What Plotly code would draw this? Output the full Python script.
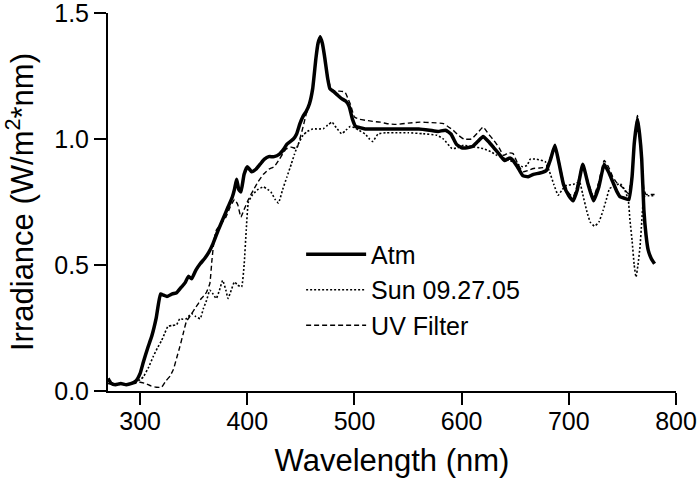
import plotly.graph_objects as go

# Atm (thick solid)
atm_wl = [270, 273, 277, 282, 287, 292, 296, 300, 303, 307, 311, 315, 319, 322, 325, 330, 334, 338,
          342, 345, 348, 352, 356, 360, 364, 368, 373, 378, 382, 386, 388, 390, 392, 394, 397, 400,
          404, 408, 412, 416, 420, 425, 430, 434, 437, 440, 443, 446, 449, 452, 455, 458, 461, 464,
          466, 468, 470, 472, 475, 477, 480, 484, 488, 492, 495, 498, 501, 505, 510, 520, 530, 540,
          550, 560, 570, 578, 585, 590, 595, 600, 605, 610, 615, 620, 625, 630, 635, 640, 645, 648,
          652, 657, 662, 667, 673, 679, 683, 687, 691, 695, 700, 704, 708, 713, 718, 723, 728, 733,
          737, 741, 745, 748, 752, 756, 759, 761, 764, 766, 768, 770, 772, 774, 777, 780]
atm_val = [0.05, 0.03, 0.025, 0.03, 0.025, 0.03, 0.04, 0.07, 0.115, 0.17, 0.22, 0.29, 0.385, 0.38,
           0.375, 0.385, 0.39, 0.41, 0.43, 0.455, 0.445, 0.48, 0.505, 0.525, 0.55, 0.585, 0.64, 0.69,
           0.73, 0.77, 0.80, 0.84, 0.80, 0.79, 0.86, 0.89, 0.87, 0.88, 0.90, 0.92, 0.93, 0.93, 0.94,
           0.96, 0.98, 0.99, 1.00, 1.02, 1.06, 1.09, 1.11, 1.14, 1.20, 1.32, 1.38, 1.405, 1.38, 1.33,
           1.24, 1.20, 1.19, 1.175, 1.16, 1.15, 1.13, 1.08, 1.05, 1.045, 1.04, 1.04, 1.04, 1.04, 1.04,
           1.04, 1.035, 1.03, 1.035, 1.02, 0.98, 0.965, 0.965, 0.97, 0.99, 1.01, 0.99, 0.965, 0.94,
           0.915, 0.925, 0.915, 0.89, 0.855, 0.85, 0.86, 0.865, 0.875, 0.92, 0.975, 0.90, 0.82, 0.775,
           0.755, 0.80, 0.90, 0.82, 0.755, 0.81, 0.90, 0.87, 0.83, 0.79, 0.77, 0.765, 0.76, 0.85, 0.98,
           1.08, 1.02, 0.92, 0.72, 0.62, 0.56, 0.525, 0.505]

# Sun 09.27.05 (dotted)
sun_wl = [270, 275, 280, 285, 290, 295, 300, 303, 308, 312, 316, 320, 323, 326, 330, 334, 337, 340,
          343, 348, 352, 356, 359, 362, 365, 368, 371, 374, 377, 380, 382, 385, 388, 391, 394.6, 397,
          399, 401, 405, 410, 415, 419, 422, 426, 429, 433, 437, 441, 444, 448, 452, 456, 461, 466,
          471, 475, 479, 483, 488, 492, 496, 500, 504, 510, 514, 517, 522, 530, 540, 550, 564, 577,
          583, 591, 596, 602, 610, 620, 627, 633, 645, 652, 657, 661, 664, 670, 678, 682, 686, 690,
          694, 698, 704, 710, 713, 717, 720, 724, 728, 732, 735, 738, 743, 748, 752, 755.5, 757, 759,
          761, 762.7, 764.5, 766.4, 768, 769.5, 771, 775, 780]
sun_val = [0.04, 0.03, 0.03, 0.025, 0.03, 0.03, 0.045, 0.056, 0.095, 0.135, 0.17, 0.20, 0.23, 0.257,
           0.26, 0.263, 0.287, 0.285, 0.287, 0.307, 0.295, 0.287, 0.327, 0.36, 0.40, 0.385, 0.367,
           0.40, 0.439, 0.40, 0.367, 0.40, 0.433, 0.42, 0.413, 0.50, 0.64, 0.75, 0.78, 0.80, 0.81,
           0.80, 0.79, 0.76, 0.746, 0.80, 0.85, 0.90, 0.94, 0.985, 1.015, 1.03, 1.04, 1.04, 1.041,
           1.055, 1.067, 1.045, 1.021, 1.035, 1.05, 1.045, 1.035, 1.02, 1.00, 0.99, 1.02, 1.025,
           1.025, 1.025, 1.021, 1.015, 1.0, 0.962, 0.965, 0.975, 0.97, 0.962, 0.95, 0.935, 0.915,
           0.90, 0.89, 0.895, 0.92, 0.92, 0.91, 0.87, 0.82, 0.777, 0.80, 0.816, 0.82, 0.829, 0.78,
           0.71, 0.67, 0.654, 0.67, 0.717, 0.76, 0.803, 0.815, 0.823, 0.80, 0.757, 0.68, 0.598, 0.50,
           0.452, 0.50, 0.571, 0.67, 0.757, 0.774, 0.775, 0.775]

# UV Filter (dashed)
uv_wl = [270, 275, 280, 285, 290, 295, 300, 305, 310, 315, 320, 324, 328, 331, 334, 337, 340, 343,
         347, 351, 354, 357, 360, 362, 365, 367, 369, 371, 375, 380, 384, 388, 391, 394, 397, 401,
         406, 410, 415, 420, 425, 430, 436, 441, 446, 449, 452, 455, 458, 461, 464, 466, 468, 470,
         472, 475, 478, 482, 486, 491, 494, 496, 500, 505, 511, 517, 524, 532, 539, 550, 561, 572,
         583, 592, 597, 602, 609, 615, 620, 625, 630, 635, 639, 644, 648, 652, 657, 662, 667, 673,
         679, 683, 687, 691, 695, 700, 704, 708, 713, 718, 723, 728, 733, 737, 741, 745, 748, 752,
         755.5, 759, 761, 764, 766, 768, 770, 772, 776, 780]
uv_val = [0.03, 0.025, 0.03, 0.025, 0.03, 0.03, 0.035, 0.03, 0.02, 0.015, 0.015, 0.04, 0.06, 0.085,
          0.13, 0.175, 0.225, 0.274, 0.30, 0.327, 0.345, 0.367, 0.38, 0.393, 0.426, 0.52, 0.60, 0.638,
          0.66, 0.69, 0.73, 0.76, 0.74, 0.69, 0.72, 0.76, 0.80, 0.83, 0.86, 0.88, 0.89, 0.92, 0.96,
          0.968, 0.962, 1.0, 1.048, 1.10, 1.14, 1.20, 1.32, 1.38, 1.41, 1.38, 1.33, 1.25, 1.20, 1.19,
          1.19, 1.187, 1.16, 1.14, 1.087, 1.078, 1.074, 1.07, 1.067, 1.06, 1.058, 1.063, 1.067, 1.065,
          1.061, 1.035, 1.015, 1.0, 1.0, 1.025, 1.048, 1.02, 0.995, 0.965, 0.935, 0.945, 0.942, 0.905,
          0.87, 0.875, 0.883, 0.885, 0.889, 0.93, 0.975, 0.91, 0.83, 0.785, 0.77, 0.82, 0.90, 0.83,
          0.77, 0.83, 0.915, 0.89, 0.85, 0.825, 0.816, 0.80, 0.783, 0.86, 0.98, 1.094, 1.03, 0.92,
          0.80, 0.78, 0.78, 0.78]

FONT = "Arial, Liberation Sans, sans-serif"

fig = go.Figure()
fig.add_trace(go.Scatter(x=atm_wl, y=atm_val, mode="lines", name="Atm",
                         line=dict(color="black", width=3.5, shape="spline", smoothing=0.4)))
fig.add_trace(go.Scatter(x=sun_wl, y=sun_val, mode="lines", name="Sun 09.27.05",
                         line=dict(color="black", width=1.6, dash="2px,2px", shape="spline", smoothing=0.4)))
fig.add_trace(go.Scatter(x=uv_wl, y=uv_val, mode="lines", name="UV Filter",
                         line=dict(color="black", width=1.4, dash="5px,3px", shape="spline", smoothing=0.4)))

fig.update_layout(
    width=700,
    height=482,
    margin=dict(l=108, r=24, t=13, b=91),
    paper_bgcolor="white",
    plot_bgcolor="white",
    font=dict(family=FONT, color="black", size=25),
    legend=dict(
        x=0.34, y=0.422, xanchor="left", yanchor="top",
        bgcolor="rgba(0,0,0,0)", font=dict(size=25), itemwidth=60,
    ),
)

fig.update_xaxes(
    range=[270, 800], tickvals=[300, 400, 500, 600, 700, 800],
    showline=True, linecolor="black", linewidth=2,
    ticks="outside", ticklen=12, tickwidth=2, tickcolor="black",
    showgrid=False, zeroline=False, tickfont=dict(size=25), automargin=False,
    ticklabelstandoff=-5,
    title=dict(text="Wavelength (nm)", font=dict(size=31), standoff=15),
)
fig.update_yaxes(
    range=[0, 1.5001], tickvals=[0, 0.5, 1.0, 1.5], tickformat=".1f",
    showline=True, linecolor="black", linewidth=2,
    ticks="outside", ticklen=12, tickwidth=2, tickcolor="black",
    showgrid=False, zeroline=False, tickfont=dict(size=25), automargin=False,
    ticklabeloverflow="allow",
    title=dict(text="Irradiance (W/m<sup>2</sup>*nm)", font=dict(size=31), standoff=15),
)

# drop the default 8px body margin so the figure sits at the page corner
fig.write_html("out.html", config={"displayModeBar": False},
               post_script="document.body.style.margin = '0';")
